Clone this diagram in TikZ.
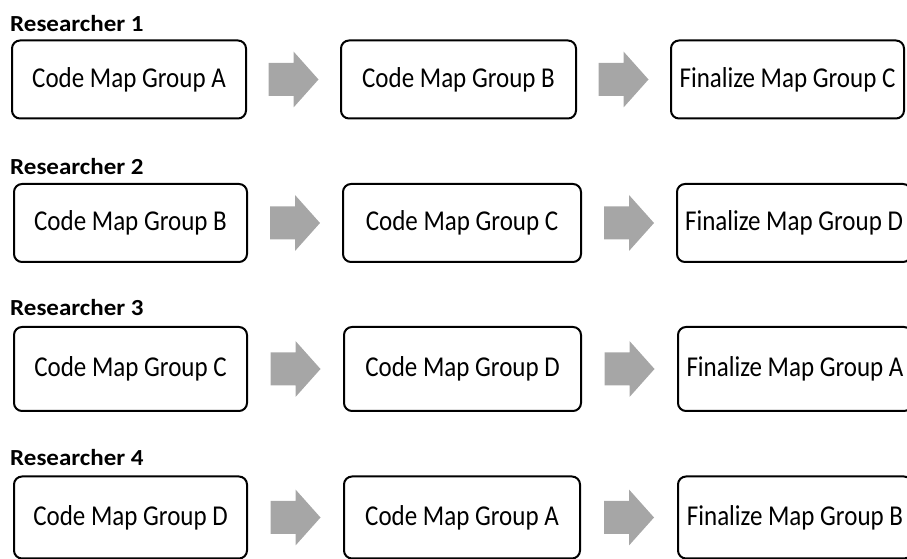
\documentclass[tikz,border=0pt]{standalone}
\usepackage{fontspec}
\usepackage{graphicx}
\setmainfont{Carlito}
\usetikzlibrary{calc}
\definecolor{arrowgray}{HTML}{A6A6A6}
\newcommand\boxtxt[1]{\scalebox{1}[1.15]{#1}}
\newcommand\labtxt[1]{\scalebox{1}[0.92]{#1}}
\tikzset{
  stepbox/.style={draw=black, line width=2pt, rounded corners=8pt, fill=white,
    inner sep=0pt, font=\fontsize{25}{30}\selectfont},
  rlabel/.style={anchor=base west, inner sep=0pt, font=\bfseries\fontsize{25}{30}\selectfont},
  fat arrow/.pic={\fill[arrowgray] (-25,-16.5) -- (0,-16.5) -- (0,-28) -- (25,0) -- (0,28) -- (0,16.5) -- (-25,16.5) -- cycle;}
}
\begin{document}
\begin{tikzpicture}[x=1pt,y=1pt]
\useasboundingbox (0,0) rectangle (907,559);
\clip (0,0) rectangle (907,559);
% Row 1
\node[rlabel] (l1) at (10,527) {\labtxt{Researcher 1}};
\node[stepbox, minimum width=234pt, minimum height=78pt] (r1a) at (129,479.5) {\boxtxt{Code Map Group A}};
\node[stepbox, minimum width=235pt, minimum height=78pt] (r1b) at (458.5,479.5) {\boxtxt{Code Map Group B}};
\node[stepbox, minimum width=233pt, minimum height=78pt] (r1c) at (787.5,479.5) {\boxtxt{Finalize Map Group C}};
\pic at ($(r1a.east)!0.5!(r1b.west)$) {fat arrow};
\pic at ($(r1b.east)!0.5!(r1c.west)$) {fat arrow};
% Row 2
\node[rlabel] (l2) at (10,384) {\labtxt{Researcher 2}};
\node[stepbox, minimum width=233pt, minimum height=78pt] (r2a) at (130.5,336) {\boxtxt{Code Map Group B}};
\node[stepbox, minimum width=238pt, minimum height=78pt] (r2b) at (462,336) {\boxtxt{Code Map Group C}};
\node[stepbox, minimum width=234pt, minimum height=78pt] (r2c) at (794,336) {\boxtxt{Finalize Map Group D}};
\pic at ($(r2a.east)!0.5!(r2b.west)$) {fat arrow};
\pic at ($(r2b.east)!0.5!(r2c.west)$) {fat arrow};
% Row 3
\node[rlabel] (l3) at (10,243) {\labtxt{Researcher 3}};
\node[stepbox, minimum width=233pt, minimum height=84pt] (r3a) at (130.5,190) {\boxtxt{Code Map Group C}};
\node[stepbox, minimum width=237pt, minimum height=84pt] (r3b) at (462.5,190) {\boxtxt{Code Map Group D}};
\node[stepbox, minimum width=234pt, minimum height=84pt] (r3c) at (795,190) {\boxtxt{Finalize Map Group A}};
\pic at ($(r3a.east)!0.5!(r3b.west)$) {fat arrow};
\pic at ($(r3b.east)!0.5!(r3c.west)$) {fat arrow};
% Row 4
\node[rlabel] (l4) at (10,93) {\labtxt{Researcher 4}};
\node[stepbox, minimum width=233pt, minimum height=82pt] (r4a) at (130.5,41.5) {\boxtxt{Code Map Group D}};
\node[stepbox, minimum width=236pt, minimum height=82pt] (r4b) at (462,41.5) {\boxtxt{Code Map Group A}};
\node[stepbox, minimum width=234pt, minimum height=82pt] (r4c) at (795,41.5) {\boxtxt{Finalize Map Group B}};
\pic at ($(r4a.east)!0.5!(r4b.west)$) {fat arrow};
\pic at ($(r4b.east)!0.5!(r4c.west)$) {fat arrow};
\end{tikzpicture}
\end{document}
